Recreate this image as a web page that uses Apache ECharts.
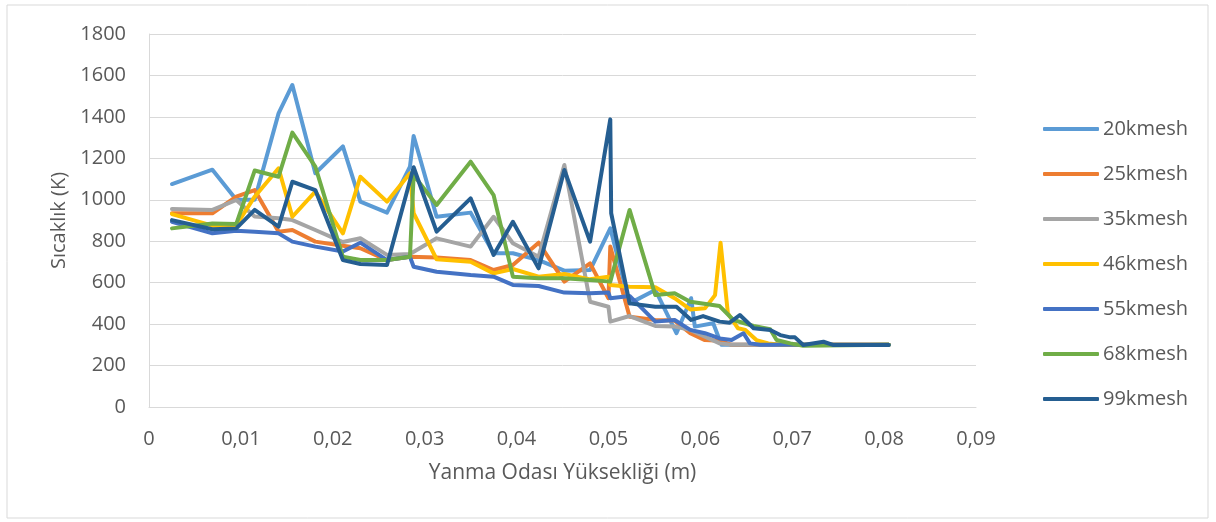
<!DOCTYPE html>
<html>
<head>
<meta charset="utf-8">
<script src="https://cdn.jsdelivr.net/npm/echarts@6/dist/echarts.min.js"></script>
<style>
  html, body { margin: 0; padding: 0; background: #fff; }
  #chart { width: 1216px; height: 522px; }
</style>
</head>
<body>
<div id="chart"></div>
<script>
// seriler: [yükseklik (m), sıcaklık (K)]
var names = ['20kmesh', '25kmesh', '35kmesh', '46kmesh', '55kmesh', '68kmesh', '99kmesh'];
var colors = ['#5B9BD5', '#ED7D31', '#A5A5A5', '#FFC000', '#4472C4', '#70AD47', '#255E91'];

var mesh20 = [[0.0025,1076],[0.0069,1145],[0.0095,1000],[0.0115,1000],[0.0141,1417],[0.0156,1554],[0.0181,1128],[0.0211,1258],[0.023,991],[0.0259,938],[0.0284,1160],[0.0288,1308],[0.0313,918],[0.035,938],[0.0375,742],[0.0396,742],[0.0424,709],[0.0452,658],[0.048,661],[0.0502,862],[0.0523,500],[0.0551,565],[0.0574,356],[0.059,525],[0.0594,388],[0.0614,404],[0.0623,300],[0.0645,300],[0.07,300],[0.0805,300]];
var mesh25 = [[0.0025,935],[0.0069,935],[0.0095,1015],[0.0115,1047],[0.0141,846],[0.0156,854],[0.0181,798],[0.0211,778],[0.023,766],[0.0259,709],[0.0284,725],[0.0313,722],[0.035,709],[0.0375,661],[0.0396,685],[0.0424,793],[0.0452,605],[0.048,693],[0.050,525],[0.0502,774],[0.0523,436],[0.0551,420],[0.0572,417],[0.0589,356],[0.0605,323],[0.0621,320],[0.0634,300],[0.07,300],[0.0805,300]];
var mesh35 = [[0.0025,955],[0.0069,951],[0.0095,999],[0.0115,919],[0.0141,911],[0.0156,902],[0.0181,854],[0.0211,796],[0.023,814],[0.0259,734],[0.0284,738],[0.0313,814],[0.035,774],[0.0375,918],[0.0396,790],[0.0424,725],[0.0452,1168],[0.048,508],[0.050,484],[0.0502,412],[0.0523,439],[0.0551,391],[0.0572,388],[0.0589,372],[0.0605,339],[0.0621,307],[0.0634,300],[0.07,300],[0.0805,300]];
var mesh46 = [[0.0025,931],[0.0069,875],[0.0095,878],[0.0115,1015],[0.0141,1152],[0.0156,918],[0.0181,1039],[0.0211,838],[0.023,1111],[0.0259,991],[0.0284,1128],[0.0288,935],[0.0313,713],[0.035,701],[0.0375,645],[0.0396,666],[0.0424,629],[0.0452,642],[0.048,616],[0.050,629],[0.0502,589],[0.0523,580],[0.0551,578],[0.0572,525],[0.0589,471],[0.0605,476],[0.0616,540],[0.0622,793],[0.063,452],[0.0641,380],[0.0649,372],[0.0661,323],[0.0674,307],[0.0687,300],[0.0805,300]];
var mesh55 = [[0.0025,894],[0.0069,838],[0.0095,851],[0.0115,846],[0.0141,838],[0.0156,798],[0.0181,774],[0.0211,750],[0.023,793],[0.0259,709],[0.0284,725],[0.0288,677],[0.0313,653],[0.035,637],[0.0375,629],[0.0396,589],[0.0424,584],[0.0452,552],[0.048,549],[0.050,552],[0.0502,525],[0.0523,536],[0.0551,412],[0.0572,420],[0.0589,372],[0.0605,356],[0.0621,331],[0.0634,323],[0.0647,356],[0.0654,307],[0.0665,300],[0.0805,300]];
var mesh68 = [[0.0025,862],[0.0069,886],[0.0095,883],[0.0115,1141],[0.0141,1111],[0.0156,1324],[0.0181,1160],[0.0211,725],[0.023,709],[0.0259,709],[0.0284,725],[0.0288,1119],[0.0313,975],[0.035,1184],[0.0375,1023],[0.0396,629],[0.0424,621],[0.0452,621],[0.048,613],[0.0502,605],[0.0523,951],[0.0551,540],[0.0572,549],[0.0589,508],[0.0621,487],[0.0636,420],[0.0658,391],[0.0676,375],[0.0683,323],[0.0698,307],[0.0712,295],[0.0805,300]];
var mesh99 = [[0.0025,902],[0.0069,858],[0.0095,862],[0.0115,951],[0.0141,870],[0.0156,1087],[0.0181,1047],[0.0211,709],[0.023,690],[0.0259,685],[0.0288,1157],[0.0313,846],[0.035,1007],[0.0375,734],[0.0396,894],[0.0424,669],[0.0452,1144],[0.048,798],[0.0502,1388],[0.0503,935],[0.0523,500],[0.0551,484],[0.0574,484],[0.059,420],[0.0603,439],[0.0621,412],[0.0632,407],[0.0643,444],[0.0658,380],[0.0676,372],[0.0687,347],[0.0698,336],[0.0703,336],[0.0712,299],[0.0734,315],[0.0745,299],[0.0805,299]];

var allData = [mesh20, mesh25, mesh35, mesh46, mesh55, mesh68, mesh99];

var textColor = '#595959';
var fontFam = "'Open Sans', 'DejaVu Sans', sans-serif";

var myChart = echarts.init(document.getElementById('chart'));

var series = names.map(function(n, i) {
	return {
		name: n,
		type: 'line',
		data: allData[i],
		symbol: 'none',
		smooth: false,
		color: colors[i],
		lineStyle: { width: 4, color: colors[i], cap: 'round', join: 'round' }
	};
});

myChart.setOption({
	animation: false,
	textStyle: { fontFamily: fontFam },
	graphic: [{
		type: 'rect',
		shape: { x: 7, y: 5, width: 1201, height: 513 },
		style: { fill: 'none', stroke: '#D9D9D9', lineWidth: 1 }
	}],
	grid: { left: 149, right: 240, top: 34, bottom: 115 },
	legend: {
		orient: 'vertical',
		left: 1043,
		top: 118,
		padding: 0,
		icon: 'roundRect',
		itemWidth: 56,
		itemHeight: 4,
		itemGap: 23,
		textStyle: { color: textColor, fontSize: 20, lineHeight: 22, fontFamily: fontFam, padding: [0, 0, 0, -1] },
		data: names
	},
	xAxis: {
		type: 'value',
		min: 0,
		max: 0.09,
		interval: 0.01,
		name: 'Yanma Odası Yüksekliği (m)',
		nameLocation: 'middle',
		nameGap: 56,
		nameTextStyle: { color: textColor, fontSize: 21 },
		axisLine: { show: true, lineStyle: { color: '#D9D9D9', width: 1 } },
		axisTick: { show: false },
		splitLine: { show: false },
		axisLabel: {
			color: textColor,
			fontSize: 20,
			margin: 22,
			formatter: function(v) {
				if (v === 0) return '0';
				return v.toFixed(2).replace('.', ',');
			}
		}
	},
	yAxis: {
		type: 'value',
		min: 0,
		max: 1800,
		interval: 200,
		name: 'Sıcaklık (K)',
		nameLocation: 'middle',
		nameGap: 80,
		nameTextStyle: { color: textColor, fontSize: 20 },
		axisLine: { show: true, lineStyle: { color: '#D9D9D9', width: 1 } },
		axisTick: { show: false },
		splitLine: { show: true, lineStyle: { color: '#D9D9D9', width: 1 } },
		axisLabel: {
			color: textColor,
			fontSize: 20,
			margin: 23,
			formatter: function(v) { return String(v); }
		}
	},
	series: series
});
</script>
</body>
</html>
